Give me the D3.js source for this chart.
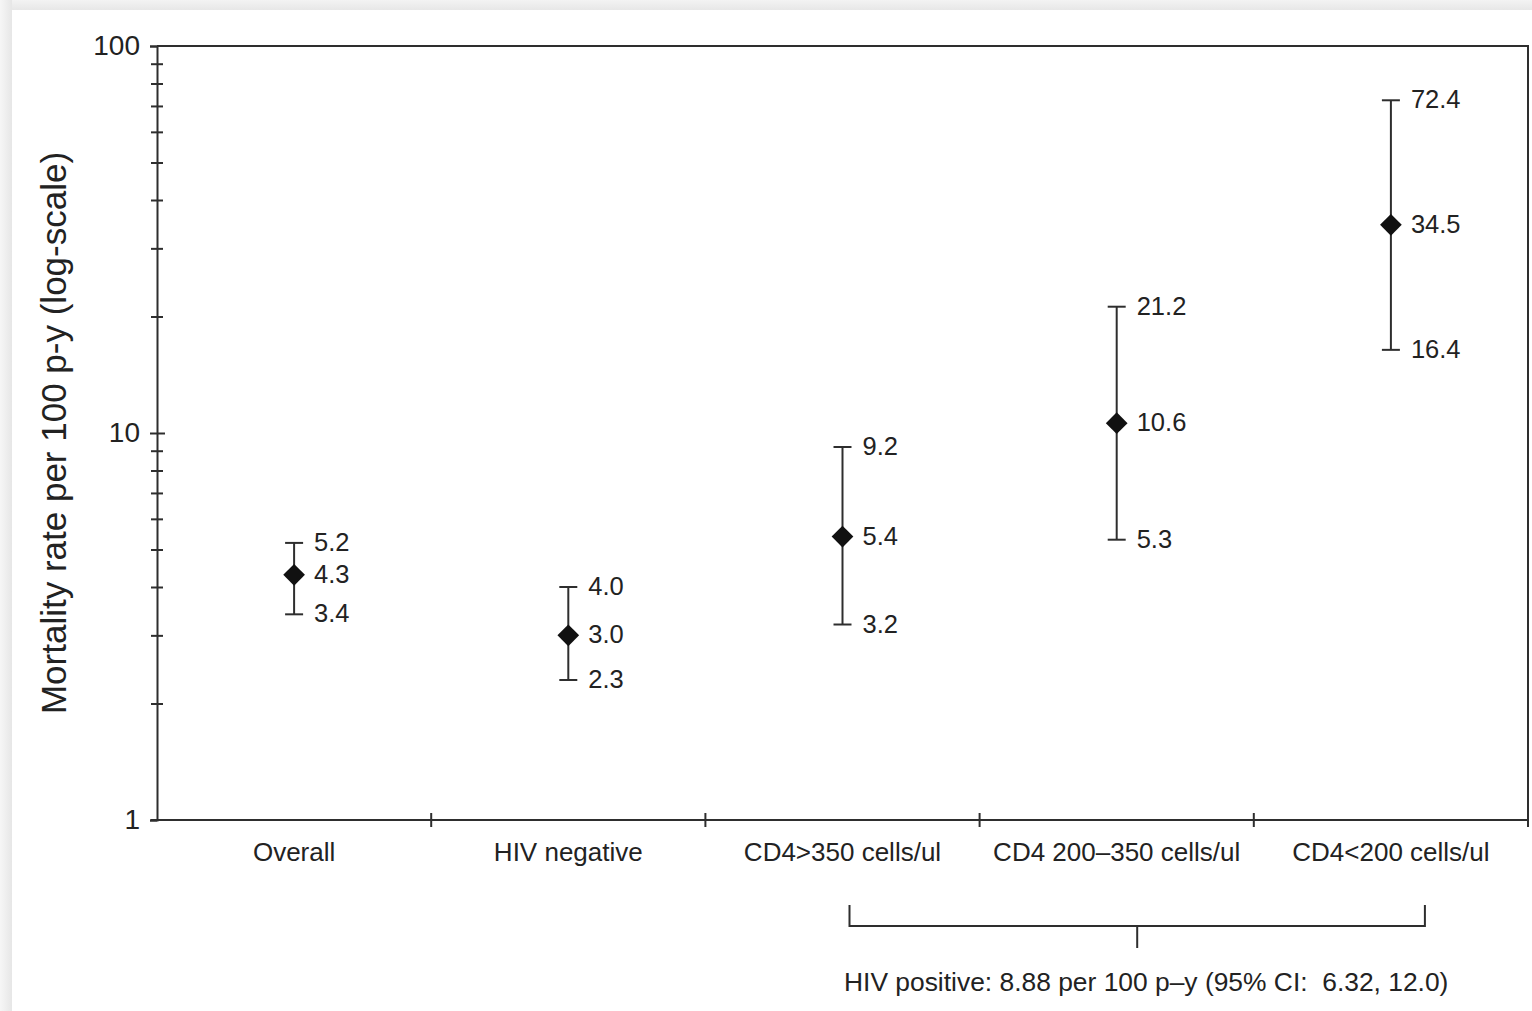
<!DOCTYPE html>
<html>
<head>
<meta charset="utf-8">
<script src="https://cdn.jsdelivr.net/npm/d3@7"></script>
<style>
  html, body { margin: 0; padding: 0; background: #f0f0f0; }
  svg { display: block; }
  text { font-family: "Liberation Sans", Arial, sans-serif; fill: #222; }
</style>
</head>
<body>
<svg id="chart" width="1532" height="1011"></svg>
<script>
// Mortality rate per 100 person-years with 95% confidence intervals
const categories = ["Overall", "HIV negative", "CD4>350 cells/ul", "CD4 200\u2013350 cells/ul", "CD4<200 cells/ul"];
const rates = [4.3, 3.0, 5.4, 10.6, 34.5];
const lowerCI = [3.4, 2.3, 3.2, 5.3, 16.4];
const upperCI = [5.2, 4.0, 9.2, 21.2, 72.4];
const yMajorTicks = [1, 10, 100];
const yMinorTicks = [2, 3, 4, 5, 6, 7, 8, 9, 20, 30, 40, 50, 60, 70, 80, 90];
const hivPositiveGroups = ["CD4>350 cells/ul", "CD4<200 cells/ul"];
const hivPositiveNote = "HIV positive: 8.88 per 100 p\u2013y (95% CI:\u00a0 6.32, 12.0)";

const svg = d3.select("#chart");
const W = 1532, H = 1011;
const margin = { left: 157, right: 4, top: 46, bottom: 191 };
const ink = "#2e2e2e";

// Page backdrop with a soft shadow along the top and left edges
const defs = svg.append("defs");
const gl = defs.append("linearGradient").attr("id", "shadeLeft").attr("x1", 0).attr("x2", 1).attr("y1", 0).attr("y2", 0);
gl.append("stop").attr("offset", "0%").attr("stop-color", "#f6f6f6");
gl.append("stop").attr("offset", "100%").attr("stop-color", "#e6e6e6");
const gt = defs.append("linearGradient").attr("id", "shadeTop").attr("x1", 0).attr("x2", 0).attr("y1", 0).attr("y2", 1);
gt.append("stop").attr("offset", "0%").attr("stop-color", "#f3f3f3");
gt.append("stop").attr("offset", "100%").attr("stop-color", "#e7e7e7");
svg.append("rect").attr("x", 0).attr("y", 0).attr("width", W).attr("height", 10).attr("fill", "url(#shadeTop)");
svg.append("rect").attr("x", 0).attr("y", 0).attr("width", 12).attr("height", H).attr("fill", "url(#shadeLeft)");
svg.append("rect").attr("x", 12).attr("y", 10).attr("width", W - 12).attr("height", H - 10).attr("fill", "#fff");

const x = d3.scaleBand()
  .domain(categories)
  .range([margin.left, W - margin.right])
  .padding(0);

const y = d3.scaleLog()
  .domain([1, 100])
  .range([H - margin.bottom, margin.top]);

const x0 = x.range()[0], x1 = x.range()[1];
const yb = y(1), yt = y(100);

// Plot frame: top and right borders
svg.append("path")
  .attr("d", `M${x0},${yt}H${x1}V${yb}`)
  .attr("fill", "none").attr("stroke", ink).attr("stroke-width", 2);

// Y axis (log scale)
const yAxis = svg.append("g")
  .attr("transform", `translate(${x0},0)`)
  .call(d3.axisLeft(y).tickValues(yMajorTicks).tickFormat(d3.format("d")).tickSize(7).tickPadding(10));
yAxis.select(".domain").attr("stroke", ink).attr("stroke-width", 2);
yAxis.selectAll(".tick line").attr("stroke", ink).attr("stroke-width", 2);
yAxis.selectAll(".tick text").attr("font-size", 28).attr("fill", "#222");
yAxis.selectAll(".tick").filter(d => d === 10)
  .append("line").attr("x1", 0).attr("x2", 8).attr("stroke", ink).attr("stroke-width", 2);

const yMinor = svg.append("g")
  .attr("transform", `translate(${x0},0)`)
  .call(d3.axisLeft(y).tickValues(yMinorTicks).tickFormat("").tickSize(6));
yMinor.select(".domain").remove();
yMinor.selectAll(".tick line").attr("x2", -6).attr("x1", 6).attr("stroke", ink).attr("stroke-width", 2);

// X axis: ticks mark the boundaries between groups
const xAxis = svg.append("g")
  .attr("transform", `translate(0,${yb})`)
  .call(d3.axisBottom(x).tickSize(0).tickPadding(23));
xAxis.select(".domain").attr("d", `M${x0 - 6},0H${x1}`).attr("stroke", ink).attr("stroke-width", 2);
xAxis.selectAll(".tick text").attr("font-size", 26).attr("fill", "#222");
xAxis.selectAll(".boundary")
  .data(categories)
  .join("line")
  .attr("class", "boundary")
  .attr("x1", d => x(d) + x.bandwidth()).attr("x2", d => x(d) + x.bandwidth())
  .attr("y1", -7).attr("y2", 7)
  .attr("stroke", ink).attr("stroke-width", 2);

// Y axis title
svg.append("text")
  .attr("transform", `translate(53,${(yt + yb) / 2}) rotate(-90)`)
  .attr("text-anchor", "middle")
  .attr("dominant-baseline", "central")
  .attr("font-size", 35)
  .text("Mortality rate per 100 p-y (log-scale)");

// Estimates with confidence intervals
const rows = categories.map((c, i) => ({ cat: c, rate: rates[i], lo: lowerCI[i], hi: upperCI[i] }));
const cx = d => x(d.cat) + x.bandwidth() / 2;
const g = svg.append("g");

g.selectAll(".stem").data(rows).join("line")
  .attr("x1", cx).attr("x2", cx)
  .attr("y1", d => y(d.lo)).attr("y2", d => y(d.hi))
  .attr("stroke", ink).attr("stroke-width", 2);
["lo", "hi"].forEach(k => {
  g.selectAll(".cap-" + k).data(rows).join("line")
    .attr("x1", d => cx(d) - 9).attr("x2", d => cx(d) + 9)
    .attr("y1", d => y(d[k])).attr("y2", d => y(d[k]))
    .attr("stroke", ink).attr("stroke-width", 2);
});
g.selectAll(".est").data(rows).join("path")
  .attr("d", d3.symbol(d3.symbolDiamond2, 300))
  .attr("transform", d => `translate(${cx(d)},${y(d.rate)})`)
  .attr("fill", "#111");

// Value labels
const fmt = d3.format(".1f");
["lo", "rate", "hi"].forEach(k => {
  g.selectAll(".lab-" + k).data(rows).join("text")
    .attr("x", d => cx(d) + 20)
    .attr("y", d => y(d[k]) - 1)
    .attr("dominant-baseline", "central")
    .attr("font-size", 25.5)
    .text(d => fmt(d[k]));
});

// Bracket grouping the HIV positive strata
const bx0 = x(hivPositiveGroups[0]) + x.bandwidth() / 2 + 7;
const bx1 = x(hivPositiveGroups[1]) + x.bandwidth() / 2 + 34;
const bTop = yb + 85, bBar = yb + 106, bStem = yb + 128;
svg.append("path")
  .attr("d", `M${bx0},${bTop}V${bBar}H${bx1}V${bTop}M${(bx0 + bx1) / 2},${bBar}V${bStem}`)
  .attr("fill", "none").attr("stroke", ink).attr("stroke-width", 2);
svg.append("text")
  .attr("x", 844).attr("y", yb + 162)
  .attr("dominant-baseline", "central")
  .attr("font-size", 26.4)
  .text(hivPositiveNote);
</script>
</body>
</html>
